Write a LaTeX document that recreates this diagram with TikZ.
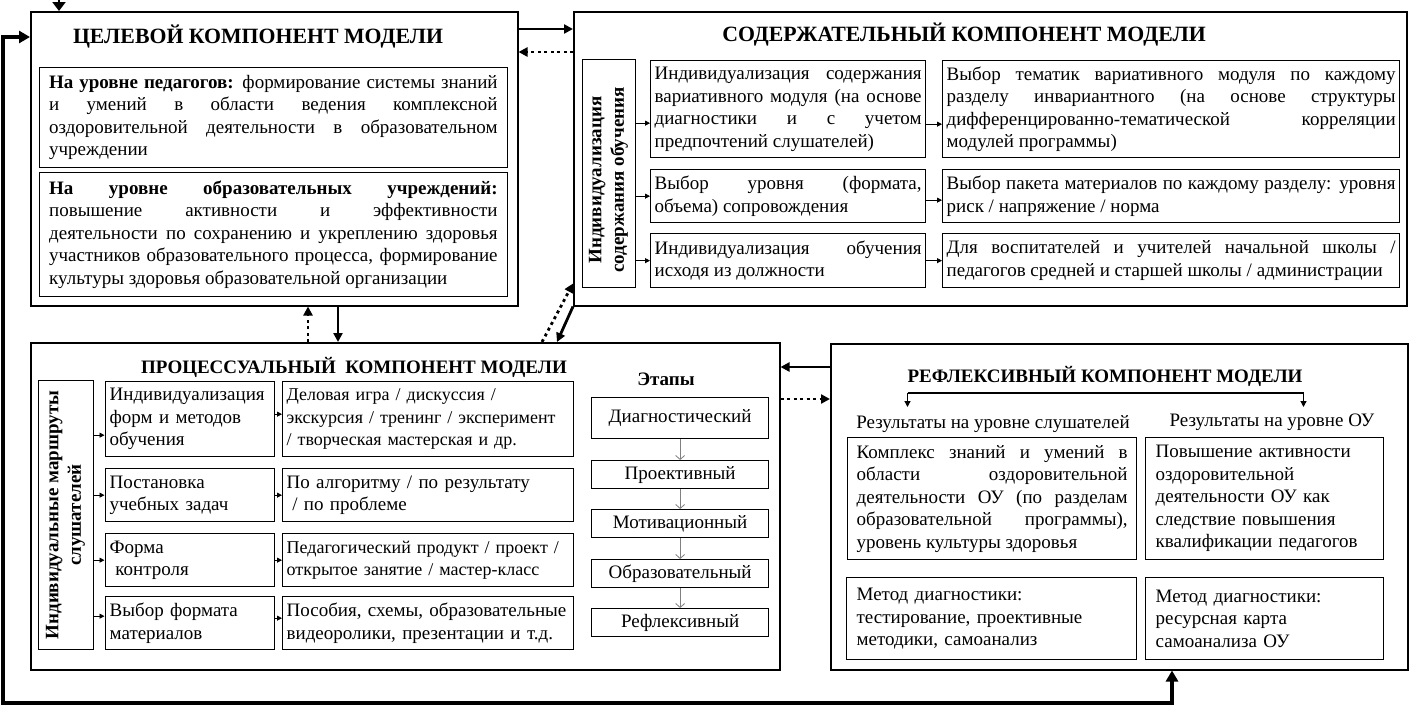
\documentclass[tikz,border=0pt]{standalone}
\usepackage{fontspec}
\setmainfont{Liberation Serif}
\usetikzlibrary{arrows.meta}
\newcommand\bodyfs{\fontsize{19}{22.5}\selectfont\hyphenpenalty=10000\exhyphenpenalty=10000}
\newcommand\narrowfs{\fontsize{18}{22.5}\selectfont\hyphenpenalty=10000\exhyphenpenalty=10000}
\tikzset{
  frame/.style={draw, line width=1.5pt, anchor=north west, inner sep=0pt},
  box/.style={draw, line width=1.3pt, anchor=north west, font=\bodyfs, inner ysep=1pt},
  jbox/.style={box, align=justify},
  lbox/.style={box, align=left},
  stagebox/.style={draw, line width=1.3pt, anchor=north west, font=\bodyfs, minimum width=177pt, align=center},
  ttl/.style={font=\bfseries\fontsize{21.8}{24}\selectfont},
  ttlsmall/.style={font=\bfseries\fontsize{19}{22}\selectfont},
  thick arrow/.style={line width=2.8pt, -{Triangle[length=9pt,width=9pt]}},
  dot arrow/.style={line width=2.8pt, dash pattern=on 3pt off 3.5pt, -{Triangle[length=9pt,width=9pt]}},
  sarr/.style={line width=0.8pt, -{Triangle[length=5pt,width=5pt]}},
  stagearr/.style={line width=0.8pt, draw=gray, -{Straight Barb[length=4pt,width=9pt]}},
  loopline/.style={line width=3.5pt, {Triangle[length=11pt,width=12pt]}-{Triangle[length=11pt,width=12pt]}},
}
\begin{document}
\begin{tikzpicture}[x=1pt,y=-1pt]
\fill[white] (0,0) rectangle (1409,707);
\useasboundingbox (0,0) rectangle (1409,707);

% ===== Goal component =====
\node[frame, minimum width=487pt, minimum height=294pt] (goal) at (30,11) {};
\node[ttl] (goalt) at (258,37) {ЦЕЛЕВОЙ КОМПОНЕНТ МОДЕЛИ};
\node[jbox, inner xsep=10pt, text width=448.5pt, minimum width=468.5pt, minimum height=100pt] (g1) at (38.5,67)
 {\textbf{На уровне педагогов:} формирование системы знаний\linebreak и умений в области ведения комплексной\linebreak оздоровительной деятельности в образовательном\linebreak учреждении};
\node[jbox, inner xsep=10pt, text width=448.5pt, minimum width=468.5pt, minimum height=124pt] (g2) at (38.5,172)
 {\textbf{На уровне образовательных учреждений:}\linebreak повышение активности и эффективности\linebreak деятельности по сохранению и укреплению здоровья\linebreak участников образовательного процесса, формирование\linebreak культуры здоровья образовательной организации};

% ===== Content component =====
\node[frame, minimum width=833pt, minimum height=294pt] (cont) at (573,11) {};
\node[ttl] (contt) at (964,35) {СОДЕРЖАТЕЛЬНЫЙ КОМПОНЕНТ МОДЕЛИ};
\node[box, minimum width=53pt, minimum height=228pt, inner sep=0pt] (cv) at (582,59) {};
\node[font=\bfseries\fontsize{19}{22.5}\selectfont, rotate=90, align=center] (cvt) at (608.5,180) {Индивидуализация\\содержания обучения};
\node[jbox, inner xsep=4pt, text width=267pt, minimum width=275pt, minimum height=97pt] (c11) at (650,60)
 {Индивидуализация содержания\linebreak вариативного модуля (на основе\linebreak диагностики и с учетом\linebreak предпочтений слушателей)};
\node[jbox, inner xsep=4pt, text width=449pt, minimum width=457pt, minimum height=97pt] (c12) at (942,60)
 {Выбор тематик вариативного модуля по каждому\linebreak разделу инвариантного (на основе структуры\linebreak дифференцированно-тематической корреляции\linebreak модулей программы)};
\node[jbox, inner xsep=4pt, text width=267pt, minimum width=275pt, minimum height=53pt] (c21) at (650,169)
 {Выбор уровня (формата,\linebreak объема) сопровождения};
\node[jbox, inner xsep=4pt, text width=449pt, minimum width=457pt, minimum height=53pt] (c22) at (942,169)
 {Выбор пакета материалов по каждому разделу: уровня\linebreak риск / напряжение / норма};
\node[jbox, inner xsep=4pt, text width=267pt, minimum width=275pt, minimum height=54pt] (c31) at (650,233)
 {Индивидуализация обучения\linebreak исходя из должности};
\node[jbox, inner xsep=4pt, text width=449pt, minimum width=457pt, minimum height=54pt] (c32) at (942,233)
 {Для воспитателей и учителей начальной школы /\linebreak педагогов средней и старшей школы / администрации};
\coordinate (c1a) at ([yshift=-14pt]c11.west);
\coordinate (c1b) at ([yshift=-15pt]c12.west);
\draw[sarr] (c1a -| cv.east) -- (c1a);
\draw[sarr] (cv.east |- c21.west) -- (c21.west);
\draw[sarr] (cv.east |- c31.west) -- (c31.west);
\draw[sarr] (c1b -| c11.east) -- (c1b);
\draw[sarr] ([yshift=-4pt]c21.east) -- ([yshift=-4pt]c22.west);
\draw[sarr] (c31.east) -- (c32.west);

% ===== Process component =====
\node[frame, minimum width=749pt, minimum height=327pt] (proc) at (30,342) {};
\node[ttlsmall] (proct) at (354,367) {ПРОЦЕССУАЛЬНЫЙ\ \ КОМПОНЕНТ МОДЕЛИ};
\node[box, minimum width=55pt, minimum height=269pt, inner sep=0pt] (pv) at (38,380) {};
\node[font=\bfseries\fontsize{19}{22.5}\selectfont, rotate=90, align=center] (pvt) at (65.5,515) {Индивидуальные маршруты\\слушателей};
\node[lbox, inner xsep=4.5pt, text width=160pt, minimum width=166pt, minimum height=75pt] (p11) at (104.5,381)
 {Индивидуализация\\форм и методов\\обучения};
\node[lbox, font=\narrowfs, inner xsep=4pt, text width=283pt, minimum width=289pt, minimum height=75pt] (p12) at (282,381)
 {Деловая игра / дискуссия /\\экскурсия / тренинг / эксперимент\\/ творческая мастерская и др.};
\node[lbox, inner xsep=4.5pt, text width=160pt, minimum width=166pt, minimum height=53pt] (p21) at (104.5,468)
 {Постановка\\учебных задач};
\node[lbox, inner xsep=4pt, text width=283pt, minimum width=289pt, minimum height=53pt] (p22) at (282,468)
 {По алгоритму / по результату\\\hspace*{0.3em}/ по проблеме};
\node[lbox, inner xsep=4.5pt, text width=160pt, minimum width=166pt, minimum height=53pt] (p31) at (104.5,533)
 {Форма\\\hspace*{0.3em}контроля};
\node[lbox, font=\narrowfs, inner xsep=4pt, text width=283pt, minimum width=289pt, minimum height=53pt] (p32) at (282,533)
 {Педагогический продукт / проект /\\открытое занятие / мастер-класс};
\node[lbox, inner xsep=4.5pt, text width=160pt, minimum width=166pt, minimum height=53pt] (p41) at (104.5,596)
 {Выбор формата\\материалов};
\node[lbox, inner xsep=4pt, text width=283pt, minimum width=289pt, minimum height=53pt] (p42) at (282,596)
 {Пособия, схемы, образовательные\\видеоролики, презентации и т.д.};
\coordinate (pa1) at ([yshift=-16pt]p11.west);
\coordinate (pb1) at ([yshift=5pt]p12.west);
\coordinate (pa4) at ([yshift=7pt]p41.west);
\coordinate (pb4) at ([yshift=5pt]p42.west);
\draw[sarr] (pa1 -| pv.east) -- (pa1);
\draw[sarr] (pv.east |- p21.west) -- (p21.west);
\draw[sarr] (pv.east |- p31.west) -- (p31.west);
\draw[sarr] (pa4 -| pv.east) -- (pa4);
\draw[sarr] (pb1 -| p11.east) -- (pb1);
\draw[sarr] (p21.east) -- (p22.west);
\draw[sarr] (p31.east) -- (p32.west);
\draw[sarr] (pb4 -| p41.east) -- (pb4);
% stages
\node[font=\bfseries\fontsize{19}{22}\selectfont] (stt) at (666,379) {Этапы};
\node[stagebox, minimum height=41pt] (s1) at (591,397) {Диагностический};
\node[stagebox, minimum height=28pt] (s2) at (591,460) {Проективный};
\node[stagebox, minimum height=28pt] (s3) at (591,509) {Мотивационный};
\node[stagebox, minimum height=28pt] (s4) at (591,559) {Образовательный};
\node[stagebox, minimum height=28pt] (s5) at (591,608) {Рефлексивный};
\draw[stagearr] (s1.south) -- (s2.north);
\draw[stagearr] (s2.south) -- (s3.north);
\draw[stagearr] (s3.south) -- (s4.north);
\draw[stagearr] (s4.south) -- (s5.north);

% ===== Reflexive component =====
\node[frame, minimum width=577pt, minimum height=326pt] (refl) at (830,343) {};
\node[ttlsmall] (reflt) at (1105,376) {РЕФЛЕКСИВНЫЙ КОМПОНЕНТ МОДЕЛИ};
\node[font=\bodyfs] (rl1) at (993,424) {Результаты на уровне слушателей};
\node[font=\bodyfs] (rl2) at (1272,422) {Результаты на уровне ОУ};
\coordinate (brL) at (907.5,393);
\coordinate (brR) at (1303.5,393);
\draw[line width=1.2pt, -{Triangle[length=6pt,width=6pt]}] (brL) -- (brR) -- ([yshift=-14pt]brR);
\draw[line width=1.2pt, -{Triangle[length=6pt,width=6pt]}] (brL) -- ([yshift=-14pt]brL);
\node[jbox, inner xsep=9pt, text width=271pt, minimum width=289pt, minimum height=122pt] (r11) at (847,437)
 {Комплекс знаний и умений в\linebreak области оздоровительной\linebreak деятельности ОУ (по разделам\linebreak образовательной программы),\linebreak уровень культуры здоровья};
\node[lbox, inner xsep=10pt, text width=218pt, minimum width=238pt, minimum height=122pt] (r12) at (1145,437)
 {Повышение активности\\оздоровительной\\деятельности ОУ как\\следствие повышения\\квалификации педагогов};
\node[lbox, inner xsep=10pt, text width=270pt, minimum width=290pt, minimum height=82pt] (r21) at (846,577)
 {Метод диагностики:\\тестирование, проективные\\методики, самоанализ};
\node[lbox, inner xsep=10pt, text width=218pt, minimum width=238pt, minimum height=82pt] (r22) at (1145,577)
 {Метод диагностики:\\ресурсная карта\\самоанализа ОУ};

% ===== Connectors =====
\draw[thick arrow] ([yshift=-18pt]goal.north east) -- ([yshift=-18pt]cont.north west);
\draw[dot arrow] ([yshift=-41pt]cont.north west) -- ([yshift=-41pt]goal.north east);
\draw[dot arrow] ([xshift=278pt]proc.north west) -- ([xshift=278pt]goal.south west);
\draw[thick arrow] ([xshift=308pt]goal.south west) -- ([xshift=308pt]proc.north west);
\draw[dot arrow] ([xshift=512pt]proc.north west) -- ([yshift=23pt]cont.south west);
\draw[thick arrow] (cont.south west) -- ([xshift=527pt]proc.north west);
\draw[thick arrow] ([yshift=-24pt]refl.north west) -- ([yshift=-25pt]proc.north east);
\draw[dot arrow] ([yshift=-57pt]proc.north east) -- ([yshift=-56pt]refl.north west);
\coordinate (topin) at (59,-12);
\draw[thick arrow, -{Triangle[length=9pt,width=13pt]}] (topin) -- ([xshift=29pt]goal.north west);
\coordinate (lpA) at (3,37);
\coordinate (lpB) at (3,703);
\coordinate (lpC) at (1172,703);
\draw[loopline] ([yshift=-26pt]goal.north west) -- (lpA) -- (lpB) -- (lpC) -- ([xshift=342pt]refl.south west);
\end{tikzpicture}
\end{document}
